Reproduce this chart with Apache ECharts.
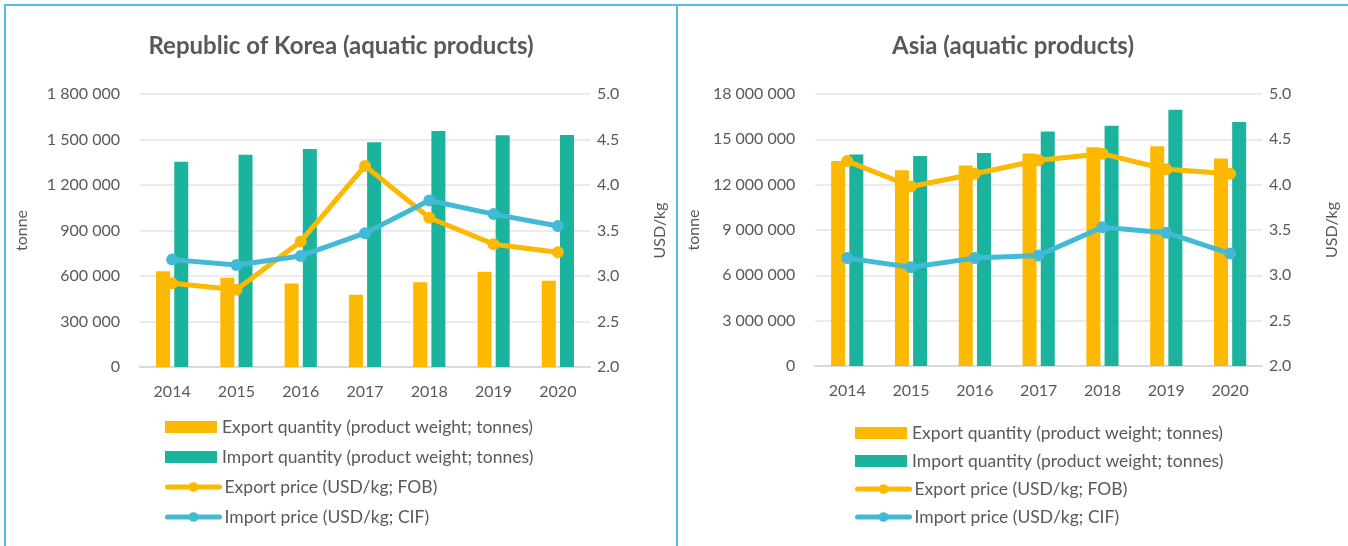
<!DOCTYPE html>
<html>
<head>
<meta charset="utf-8">
<script src="https://cdn.jsdelivr.net/npm/echarts@6/dist/echarts.min.js"></script>
<style>
  html, body { margin: 0; padding: 0; background: #ffffff; }
  body { width: 1348px; height: 546px; position: relative; overflow: hidden; }
  .panel { position: absolute; top: 4px; height: 540px; }
  #korea { left: 4px; width: 670px; border-top: 2px solid #56C1DA; border-left: 2px solid #56C1DA; border-right: 2px solid #56C1DA; }
  #asia { left: 678px; width: 670px; border-top: 2px solid #56C1DA; }
</style>
</head>
<body>
<div id="korea" class="panel"></div>
<div id="asia" class="panel"></div>
<script>
// Years on the category axis
const years = ['2014', '2015', '2016', '2017', '2018', '2019', '2020'];

// Republic of Korea: quantities (tonnes) and unit prices (USD/kg)
const koreaExportQty = [632000, 588000, 551000, 476000, 558000, 628000, 569000];
const koreaImportQty = [1354000, 1400000, 1438000, 1482000, 1556000, 1528000, 1530000];
const koreaExportPrice = [2.92, 2.85, 3.38, 4.21, 3.64, 3.35, 3.26];
const koreaImportPrice = [3.18, 3.12, 3.22, 3.47, 3.83, 3.68, 3.55];

// Asia: quantities (tonnes) and unit prices (USD/kg)
const asiaExportQty = [13560000, 12960000, 13270000, 14060000, 14480000, 14550000, 13730000];
const asiaImportQty = [14000000, 13890000, 14090000, 15520000, 15900000, 16960000, 16140000];
const asiaExportPrice = [4.26, 3.98, 4.12, 4.27, 4.34, 4.17, 4.12];
const asiaImportPrice = [3.19, 3.09, 3.19, 3.22, 3.53, 3.47, 3.24];

// Axis scales
const koreaQtyTicks = [0, 300000, 600000, 900000, 1200000, 1500000, 1800000];
const asiaQtyTicks = [0, 3000000, 6000000, 9000000, 12000000, 15000000, 18000000];
const priceTicks = [2.0, 2.5, 3.0, 3.5, 4.0, 4.5, 5.0];

const seriesNames = [
  'Export quantity (product weight; tonnes)',
  'Import quantity (product weight; tonnes)',
  'Export price (USD/kg; FOB)',
  'Import price (USD/kg; CIF)'
];

const C_EXPORT = '#FCB900';
const C_IMPORT = '#1BB29E';
const C_IMPORT_PRICE = '#42BAD6';
const TEXT = '#595959';
const FONT = 'Lato, "Open Sans", sans-serif';

function spaced(v) {
  return String(v).replace(/\B(?=(\d{3})+(?!\d))/g, ' ');
}

function build(el, cfg) {
  const chart = echarts.init(el, null, { renderer: 'canvas' });
  const qTicks = cfg.qtyTicks;
  // one legend block per row; bar rows use a plain square-cornered swatch
  const legends = seriesNames.map((name, i) => ({
    data: [i < 2 ? { name, icon: 'rect' } : name],
    left: cfg.legendLeft,
    top: cfg.legendTops[i],
    orient: 'vertical',
    padding: 0,
    itemWidth: 52,
    itemHeight: 12,
    itemGap: 5,
    selectedMode: false,
    lineStyle: { width: 5, cap: 'round' },
    textStyle: { color: TEXT, fontSize: 17.5, fontFamily: FONT }
  }));
  const lineSeries = (name, data, color) => ({
    name, type: 'line', yAxisIndex: 1, data,
    symbol: 'circle', symbolSize: 12,
    lineStyle: { width: 5, color, cap: 'round' },
    itemStyle: { color },
    z: 5
  });
  chart.setOption({
    animation: false,
    textStyle: { fontFamily: FONT },
    title: {
      text: cfg.title, left: 'center', top: 23,
      textStyle: { color: TEXT, fontSize: 24, fontWeight: 'bold', fontFamily: FONT }
    },
    legend: legends,
    grid: { left: cfg.gridLeft, right: cfg.gridRight, top: 88, bottom: cfg.gridBottom },
    xAxis: {
      type: 'category', data: years,
      axisLine: { lineStyle: { color: '#d9d9d9', width: 2 } },
      axisTick: { show: false },
      axisLabel: { color: TEXT, fontSize: 16, margin: 17, fontFamily: FONT }
    },
    yAxis: [
      {
        type: 'value', min: qTicks[0], max: qTicks[qTicks.length - 1],
        interval: qTicks[1] - qTicks[0],
        name: 'tonne', nameLocation: 'middle', nameGap: cfg.leftNameGap,
        nameTextStyle: { color: TEXT, fontSize: 16, fontFamily: FONT },
        axisLine: { show: false }, axisTick: { show: false },
        axisLabel: { color: TEXT, fontSize: 16, margin: 20, formatter: spaced, fontFamily: FONT },
        splitLine: { lineStyle: { color: '#e4e4e4', width: 1.5 } }
      },
      {
        type: 'value', min: priceTicks[0], max: priceTicks[priceTicks.length - 1],
        interval: priceTicks[1] - priceTicks[0],
        name: 'USD/kg', nameLocation: 'middle', nameGap: cfg.rightNameGap,
        nameTextStyle: { color: TEXT, fontSize: 16, fontFamily: FONT },
        axisLine: { show: false }, axisTick: { show: false },
        axisLabel: { color: TEXT, fontSize: 16, margin: 7, formatter: v => v.toFixed(1), fontFamily: FONT },
        splitLine: { show: false }
      }
    ],
    series: [
      { name: seriesNames[0], type: 'bar', data: cfg.exportQty, barWidth: 14, barGap: '30%', itemStyle: { color: C_EXPORT } },
      { name: seriesNames[1], type: 'bar', data: cfg.importQty, barWidth: 14, itemStyle: { color: C_IMPORT } },
      lineSeries(seriesNames[2], cfg.exportPrice, C_EXPORT),
      lineSeries(seriesNames[3], cfg.importPrice, C_IMPORT_PRICE)
    ]
  });
  return chart;
}

build(document.getElementById('korea'), {
  title: 'Republic of Korea (aquatic products)',
  qtyTicks: koreaQtyTicks,
  exportQty: koreaExportQty, importQty: koreaImportQty,
  exportPrice: koreaExportPrice, importPrice: koreaImportPrice,
  gridLeft: 132, gridRight: 85, gridBottom: 179,
  leftNameGap: 110, rightNameGap: 62,
  legendLeft: 159, legendTops: [412, 442, 472, 502]
});

build(document.getElementById('asia'), {
  title: 'Asia (aquatic products)',
  qtyTicks: asiaQtyTicks,
  exportQty: asiaExportQty, importQty: asiaImportQty,
  exportPrice: asiaExportPrice, importPrice: asiaImportPrice,
  gridLeft: 134, gridRight: 79, gridBottom: 180,
  leftNameGap: 112, rightNameGap: 62,
  legendLeft: 177, legendTops: [418, 446, 474, 502]
});
</script>
</body>
</html>
